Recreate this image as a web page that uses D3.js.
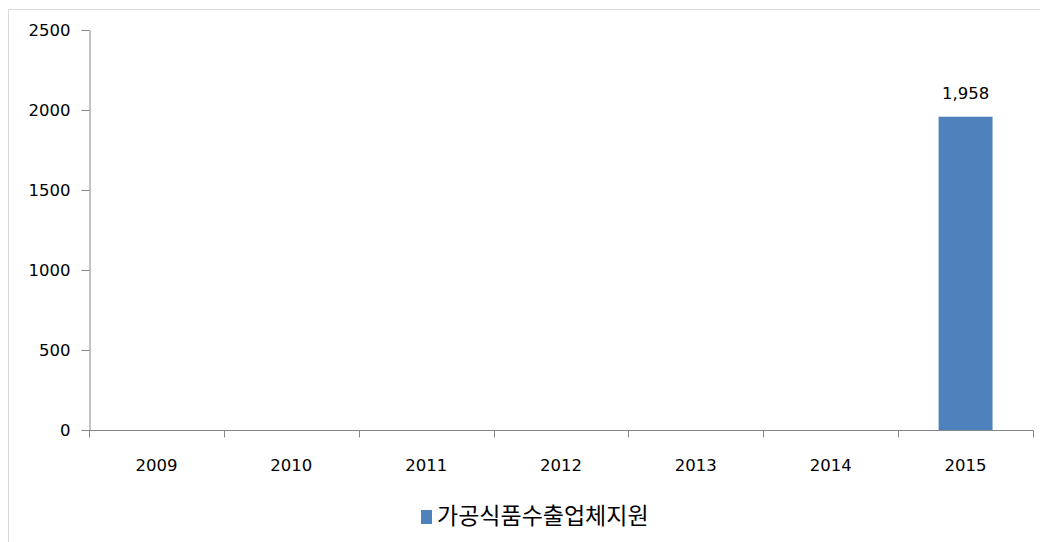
<!DOCTYPE html>
<html>
<head>
<meta charset="utf-8">
<script src="https://cdn.jsdelivr.net/npm/d3@7"></script>
<style>
  html, body { margin: 0; padding: 0; background: #fff; }
  svg { display: block; }
  text { font-family: "DejaVu Sans", "Noto Sans CJK KR", sans-serif; fill: #000; }
</style>
</head>
<body>
<svg id="chart" width="1040" height="542"></svg>
<script>
// Yearly support figures for processed food exporters
const years = ["2009", "2010", "2011", "2012", "2013", "2014", "2015"];
const values = [0, 0, 0, 0, 0, 0, 1958];
const yTicks = [0, 500, 1000, 1500, 2000, 2500];
const seriesName = "가공식품수출업체지원";

(function () {
  const svg = d3.select("#chart");
  const W = 1040, H = 542;
  const mLeft = 89, mRight = 1033, mTop = 30, mBottom = 430;
  const axisColor = "#868686";
  const barColor = "#4f81bd";
  const numFont = "'DejaVu Sans', sans-serif";

  // chart frame (top and left edges are the visible ones)
  svg.append("rect")
    .attr("x", 8.5).attr("y", 9.5)
    .attr("width", W + 20).attr("height", H + 20)
    .attr("fill", "none").attr("stroke", "#d9d9d9");

  const x = d3.scaleBand().domain(years).range([mLeft, mRight]).paddingInner(0).paddingOuter(0);
  const y = d3.scaleLinear().domain([0, 2500]).range([mBottom, mTop]);

  // y axis
  const yAxis = svg.append("g")
    .attr("transform", `translate(${mLeft + 0.5},0)`)
    .call(d3.axisLeft(y).tickValues(yTicks).tickSize(8).tickSizeOuter(0).tickPadding(11).tickFormat(d3.format("d")));
  yAxis.select(".domain").attr("stroke", axisColor);
  yAxis.selectAll(".tick line").attr("stroke", axisColor);
  yAxis.selectAll(".tick text").attr("font-size", 16.5).attr("fill", "#000")
    .attr("font-family", numFont);

  const rows = values.map((v, i) => ({ year: years[i], v })).filter(d => d.v > 0);

  // bars
  const barW = x.step() * 0.4;
  svg.append("g").selectAll("rect")
    .data(rows)
    .join("rect")
    .attr("x", d => x(d.year) + (x.bandwidth() - barW) / 2)
    .attr("y", d => y(d.v))
    .attr("width", barW)
    .attr("height", d => y(0) - y(d.v))
    .attr("fill", barColor);

  // value labels
  svg.append("g").selectAll("text")
    .data(rows)
    .join("text")
    .attr("x", d => x(d.year) + x.bandwidth() / 2)
    .attr("y", d => y(d.v) - 18)
    .attr("text-anchor", "middle")
    .attr("font-family", numFont)
    .attr("font-size", 16.5)
    .text(d => d3.format(",")(d.v));

  // x axis with ticks on category boundaries
  const xg = svg.append("g").attr("transform", `translate(0,${mBottom + 0.5})`);
  xg.append("line").attr("x1", mLeft).attr("x2", mRight).attr("stroke", axisColor);
  const bounds = years.map(d => x(d)).concat([mRight]);
  xg.selectAll("line.tk").data(bounds).join("line")
    .attr("class", "tk")
    .attr("x1", d => Math.round(d) + 0.5).attr("x2", d => Math.round(d) + 0.5)
    .attr("y1", 0).attr("y2", 7)
    .attr("stroke", axisColor);
  xg.selectAll("text").data(years).join("text")
    .attr("x", d => x(d) + x.bandwidth() / 2)
    .attr("y", 40)
    .attr("text-anchor", "middle")
    .attr("font-family", numFont)
    .attr("font-size", 16.5)
    .text(d => d);

  // legend
  const lg = svg.append("g").attr("transform", "translate(421,510)");
  lg.append("rect").attr("width", 11).attr("height", 14).attr("fill", barColor);
  lg.append("text")
    .attr("x", 16).attr("y", 14)
    .attr("font-family", "'Noto Sans CJK KR', sans-serif")
    .attr("font-size", 23)
    .attr("fill", "#000")
    .text(seriesName);
})();
</script>
</body>
</html>
